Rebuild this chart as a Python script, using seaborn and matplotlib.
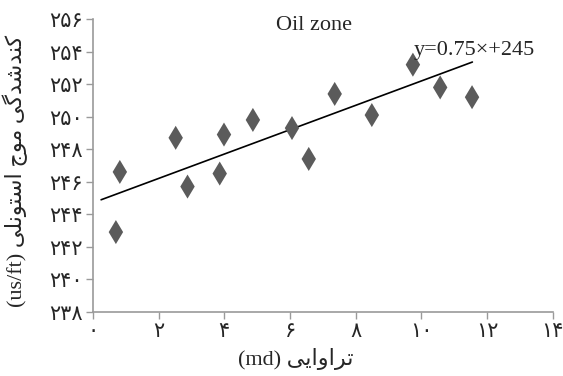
import matplotlib
matplotlib.use("Agg")
import matplotlib.pyplot as plt
import numpy as np
import pandas as pd
import seaborn as sns

# ---- data ----
permeability = [0.70, 0.82, 2.52, 2.88, 3.86, 3.99, 4.87, 6.06, 6.57, 7.36, 8.49, 9.74, 10.57, 11.54]
stoneley = [242.9, 246.6, 248.7, 245.7, 246.5, 248.9, 249.8, 249.3, 247.4, 251.4, 250.1, 253.2, 251.8, 251.2]
trend_slope = 0.75
trend_intercept = 244.7
trend_x = [0.25, 11.55]
x_ticks = [0, 2, 4, 6, 8, 10, 12, 14]
y_ticks = [238, 240, 242, 244, 246, 248, 250, 252, 254, 256]
title_text = "Oil zone"
equation_text = "y=0.75×+245"
ylabel_fa = "کندشدگی موج استونلی"
ylabel_unit = "(us/ft)"
xlabel_fa = "تراوایی"
xlabel_unit = "(md)"

# ---- minimal Persian shaping (matplotlib has no complex text layout) ----
FORMS = {  # isolated, final, initial, medial (None -> right-joining only)
    "\u06A9": ("\uFB8E", "\uFB8F", "\uFB90", "\uFB91"),
    "\u0646": ("\uFEE5", "\uFEE6", "\uFEE7", "\uFEE8"),
    "\u062F": ("\uFEA9", "\uFEAA", None, None),
    "\u0634": ("\uFEB5", "\uFEB6", "\uFEB7", "\uFEB8"),
    "\u06AF": ("\uFB92", "\uFB93", "\uFB94", "\uFB95"),
    "\u06CC": ("\uFBFC", "\uFBFD", "\uFBFE", "\uFBFF"),
    "\u0645": ("\uFEE1", "\uFEE2", "\uFEE3", "\uFEE4"),
    "\u0648": ("\uFEED", "\uFEEE", None, None),
    "\u062C": ("\uFE9D", "\uFE9E", "\uFE9F", "\uFEA0"),
    "\u0627": ("\uFE8D", "\uFE8E", None, None),
    "\u0633": ("\uFEB1", "\uFEB2", "\uFEB3", "\uFEB4"),
    "\u062A": ("\uFE95", "\uFE96", "\uFE97", "\uFE98"),
    "\u0644": ("\uFEDD", "\uFEDE", "\uFEDF", "\uFEE0"),
    "\u0631": ("\uFEAD", "\uFEAE", None, None),
}


def shape_rtl(text):
    out = []
    n = len(text)
    for i, ch in enumerate(text):
        f = FORMS.get(ch)
        if f is None:
            out.append(ch)
            continue
        prev = text[i - 1] if i > 0 else ""
        nxt = text[i + 1] if i + 1 < n else ""
        jp = prev in FORMS and FORMS[prev][2] is not None
        jn = f[2] is not None and nxt in FORMS
        if jp and jn:
            out.append(f[3])
        elif jp:
            out.append(f[1])
        elif jn:
            out.append(f[2])
        else:
            out.append(f[0])
    return "".join(out)[::-1]


fa_digits = str.maketrans("0123456789", "۰۱۲۳۴۵۶۷۸۹")

df = pd.DataFrame({"k": permeability, "dt": stoneley})
trend_df = pd.DataFrame({"k": trend_x,
                         "dt": [trend_slope * v + trend_intercept for v in trend_x]})

sns.set_style("ticks")
plt.rcParams["font.family"] = ["Liberation Serif", "DejaVu Sans"]

fig = plt.figure(figsize=(5.63, 3.76), dpi=100)
ax = fig.add_axes([0.165, 0.171, 0.817, 0.778])

sns.scatterplot(data=df, x="k", y="dt", marker="d", s=150, color="#5b5b5b",
                edgecolor="none", ax=ax, zorder=3)
sns.lineplot(data=trend_df, x="k", y="dt", color="black", linewidth=1.2, ax=ax, zorder=2)

ax.set_xlim(0, 14)
ax.set_ylim(238, 256)
ax.set_xticks(x_ticks)
ax.set_yticks(y_ticks)
ax.set_xticklabels([str(v).translate(fa_digits) for v in x_ticks],
                   family=["DejaVu Sans"], fontsize=15)
ax.set_yticklabels([str(v).translate(fa_digits) for v in y_ticks],
                   family=["DejaVu Sans"], fontsize=15)
ax.tick_params(axis="both", direction="out", length=5, width=1, color="#9a9a9a", pad=2)

for side in ("top", "right"):
    ax.spines[side].set_visible(False)
for side in ("left", "bottom"):
    ax.spines[side].set_color("#9a9a9a")
    ax.spines[side].set_linewidth(1.2)

ax.set_xlabel(xlabel_unit + " " + shape_rtl(xlabel_fa), fontsize=16,
              family=["Liberation Serif", "DejaVu Sans"])
ax.xaxis.set_label_coords(0.44, -0.125)
ax.set_ylabel(ylabel_unit + " " + shape_rtl(ylabel_fa), fontsize=16,
              family=["Liberation Serif", "DejaVu Sans"])
ax.yaxis.set_label_coords(-0.14, 0.48)

ax.text(0.48, 1.01, title_text, transform=ax.transAxes, ha="center", va="top",
        fontsize=16, family=["Liberation Serif"])
ax.text(9.75, 254.05, equation_text, ha="left", va="center", fontsize=16,
        family=["Liberation Serif", "DejaVu Sans"])

fig.savefig("out.png", dpi=100)
